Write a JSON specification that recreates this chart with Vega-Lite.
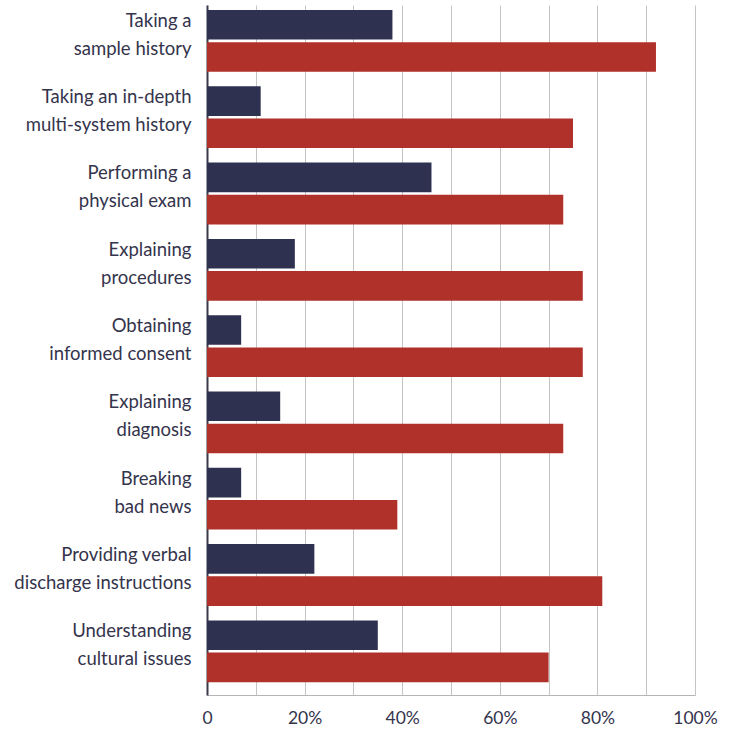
{
  "$schema": "https://vega.github.io/schema/vega-lite/v6.json",
  "autosize": "none",
  "padding": {"left": 207, "top": 5, "right": 44, "bottom": 37},
  "width": 488,
  "height": 690,
  "background": "white",
  "config": {"view": {"stroke": null}, "font": "Lato"},
  "data": {
    "values": [
      {"skill": "Taking a|sample history", "group": "Group 1", "value": 38},
      {"skill": "Taking a|sample history", "group": "Group 2", "value": 92},
      {"skill": "Taking an in-depth|multi-system history", "group": "Group 1", "value": 11},
      {"skill": "Taking an in-depth|multi-system history", "group": "Group 2", "value": 75},
      {"skill": "Performing a|physical exam", "group": "Group 1", "value": 46},
      {"skill": "Performing a|physical exam", "group": "Group 2", "value": 73},
      {"skill": "Explaining|procedures", "group": "Group 1", "value": 18},
      {"skill": "Explaining|procedures", "group": "Group 2", "value": 77},
      {"skill": "Obtaining|informed consent", "group": "Group 1", "value": 7},
      {"skill": "Obtaining|informed consent", "group": "Group 2", "value": 77},
      {"skill": "Explaining|diagnosis", "group": "Group 1", "value": 15},
      {"skill": "Explaining|diagnosis", "group": "Group 2", "value": 73},
      {"skill": "Breaking|bad news", "group": "Group 1", "value": 7},
      {"skill": "Breaking|bad news", "group": "Group 2", "value": 39},
      {"skill": "Providing verbal|discharge instructions", "group": "Group 1", "value": 22},
      {"skill": "Providing verbal|discharge instructions", "group": "Group 2", "value": 81},
      {"skill": "Understanding|cultural issues", "group": "Group 1", "value": 35},
      {"skill": "Understanding|cultural issues", "group": "Group 2", "value": 70}
    ]
  },
  "mark": {"type": "bar"},
  "encoding": {
    "y": {
      "field": "skill",
      "type": "nominal",
      "sort": null,
      "scale": {"paddingInner": 0.19, "paddingOuter": 0.1165, "align": 0.28},
      "axis": {
        "title": null,
        "ticks": false,
        "domainColor": "#3a3a4a",
        "domainWidth": 2,
        "labelExpr": "split(datum.label, '|')",
        "labelFontSize": 18.5,
        "labelColor": "#34344c",
        "labelPadding": 16,
        "labelLineHeight": 28,
        "labelOffset": -20,
        "labelLimit": 300
      }
    },
    "yOffset": {
      "field": "group",
      "type": "nominal",
      "scale": {"paddingInner": 0.08, "paddingOuter": 0}
    },
    "x": {
      "field": "value",
      "type": "quantitative",
      "scale": {"domain": [0, 100], "nice": false},
      "axis": {
        "title": null,
        "values": [0, 10, 20, 30, 40, 50, 60, 70, 80, 90, 100],
        "labelExpr": "datum.value % 20 != 0 ? '' : (datum.value == 0 ? '0' : datum.value + '%')",
        "labelFlush": false,
        "ticks": false,
        "grid": true,
        "gridColor": "#c4c4c4",
        "gridWidth": 1,
        "domainColor": "#b5b5b5",
        "domainWidth": 1,
        "labelFontSize": 17.5,
        "labelColor": "#34344c",
        "labelPadding": 14
      }
    },
    "color": {
      "field": "group",
      "type": "nominal",
      "scale": {"domain": ["Group 1", "Group 2"], "range": ["#2f3150", "#b0302a"]},
      "legend": null
    }
  }
}
